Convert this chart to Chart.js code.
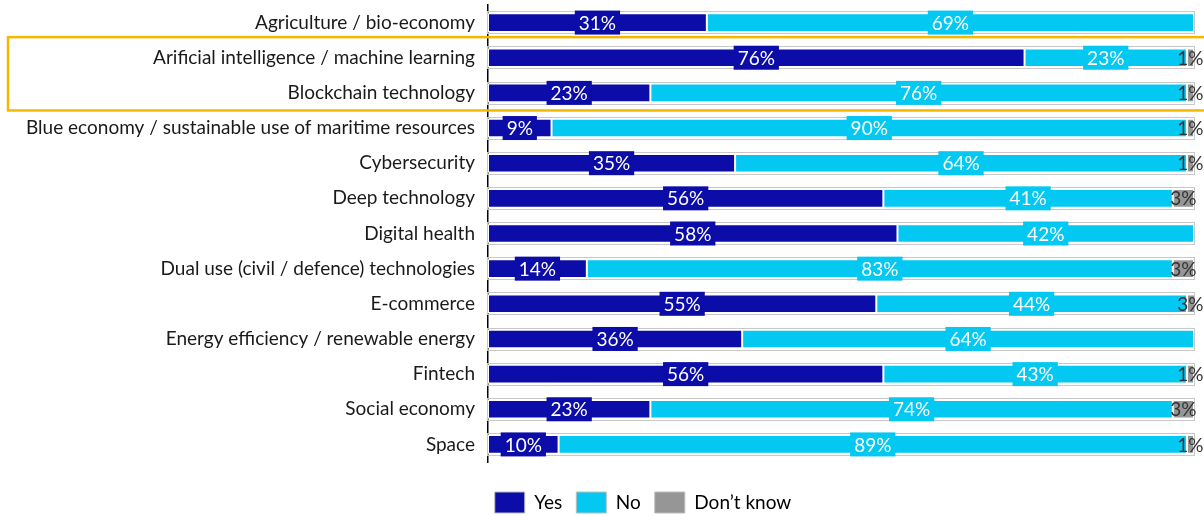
<!DOCTYPE html>
<html>
<head>
<meta charset="utf-8">
<script src="https://cdn.jsdelivr.net/npm/chart.js@4"></script>
<style>
  html, body { margin: 0; padding: 0; background: #fff; }
  #wrap { width: 1204px; height: 516px; position: relative; }
</style>
</head>
<body>
<div id="wrap"><canvas id="techChart"></canvas></div>
<script>
const categories = [
    'Agriculture / bio-economy',
    'Arificial intelligence / machine learning',
    'Blockchain technology',
    'Blue economy / sustainable use of maritime resources',
    'Cybersecurity',
    'Deep technology',
    'Digital health',
    'Dual use (civil / defence) technologies',
    'E-commerce',
    'Energy efficiency / renewable energy',
    'Fintech',
    'Social economy',
    'Space'
];
const yesValues = [31, 76, 23, 9, 35, 56, 58, 14, 55, 36, 56, 23, 10];
const noValues = [69, 23, 76, 90, 64, 41, 42, 83, 44, 64, 43, 74, 89];
const dontKnowValues = [0, 1, 1, 1, 1, 3, 0, 3, 3, 0, 1, 3, 1];
const highlighted = [1, 2];

const FONT = 'Lato, "Noto Sans", sans-serif';

// outline around each stacked bar + value labels on the segments
const barDecor = {
    id: 'barDecor',
    afterLayout(chart) {
        // nudge the legend row down and to the right
        const lg = chart.legend;
        lg.top += 16;
        lg.bottom += 16;
        lg.left += 46;
        lg.right += 46;
    },
    afterDatasetsDraw(chart) {
        const { ctx, chartArea, scales } = chart;
        const x0 = scales.x.getPixelForValue(0);
        const x1 = scales.x.getPixelForValue(100);
        const first = chart.getDatasetMeta(0);
        ctx.save();
        ctx.strokeStyle = '#c8c8c8';
        ctx.lineWidth = 1;
        first.data.forEach(bar => {
            const h = bar.height;
            ctx.strokeRect(Math.round(x0) - 0.5, Math.round(bar.y - h / 2) - 1.5, Math.round(x1 - x0) + 1, Math.round(h) + 3);
        });

        ctx.font = '19px ' + FONT;
        ctx.textAlign = 'center';
        ctx.textBaseline = 'middle';
        chart.data.datasets.forEach((ds, i) => {
            const meta = chart.getDatasetMeta(i);
            meta.data.forEach((bar, j) => {
                const v = ds.data[j];
                if (!v) return;
                const right = Math.min(bar.x, chartArea.right);
                const cx = (bar.base + right) / 2;
                const text = v + '%';
                if (i < 2) {
                    const w = ctx.measureText(text).width + 8;
                    ctx.fillStyle = ds.backgroundColor;
                    ctx.fillRect(cx - w / 2, bar.y - 12, w, 24);
                    ctx.fillStyle = '#ffffff';
                } else {
                    ctx.fillStyle = '#333333';
                }
                ctx.fillText(text, cx, bar.y + 1);
            });
        });
        ctx.restore();
    },
    afterDraw(chart) {
        // frame around the highlighted rows
        const { ctx, scales } = chart;
        const y = scales.y;
        const a = highlighted[0], b = highlighted[highlighted.length - 1];
        const top = (y.getPixelForValue(a - 1) + y.getPixelForValue(a)) / 2 - 3;
        const bottom = (y.getPixelForValue(b) + y.getPixelForValue(b + 1)) / 2;
        ctx.save();
        ctx.strokeStyle = '#f5b800';
        ctx.lineWidth = 2.5;
        ctx.strokeRect(8, top, chart.width, bottom - top);
        ctx.restore();
    }
};

new Chart(document.getElementById('techChart'), {
    type: 'bar',
    data: {
        labels: categories,
        datasets: [{
            label: 'Yes',
            data: yesValues,
            backgroundColor: '#0c0ca8',
            borderColor: '#ffffff',
            borderWidth: 1,
            borderSkipped: false
        }, {
            label: 'No',
            data: noValues,
            backgroundColor: '#02c8f2',
            borderColor: '#ffffff',
            borderWidth: 1,
            borderSkipped: false
        }, {
            label: 'Don\u2019t know',
            data: dontKnowValues,
            backgroundColor: '#969696',
            borderColor: '#ffffff',
            borderWidth: 1,
            borderSkipped: false
        }]
    },
    options: {
        indexAxis: 'y',
        responsive: true,
        maintainAspectRatio: false,
        animation: false,
        datasets: {
            bar: { barPercentage: 0.53, categoryPercentage: 1 }
        },
        layout: { padding: { top: 5, right: 10, left: 0, bottom: 9 } },
        scales: {
            x: {
                stacked: true,
                min: 0,
                max: 100,
                display: false
            },
            y: {
                stacked: true,
                grid: { display: false, drawTicks: false },
                border: { display: true, color: '#000000', width: 1.5 },
                ticks: {
                    color: '#1a1a1a',
                    padding: 13,
                    font: { family: FONT, size: 19 }
                },
                afterFit: scale => {
                    scale.width = 488;
                    scale.paddingTop = 0;
                }
            }
        },
        plugins: {
            legend: {
                position: 'bottom',
                labels: {
                    color: '#1a1a1a',
                    boxWidth: 30,
                    boxHeight: 21,
                    padding: 14,
                    font: { family: FONT, size: 19 },
                    generateLabels: chart => chart.data.datasets.map((ds, i) => ({
                        text: ds.label,
                        fillStyle: ds.backgroundColor,
                        strokeStyle: '#bdbdbd',
                        lineWidth: 1,
                        datasetIndex: i,
                        hidden: false
                    }))
                }
            },
            tooltip: { enabled: false }
        }
    },
    plugins: [barDecor]
});
</script>
</body>
</html>
